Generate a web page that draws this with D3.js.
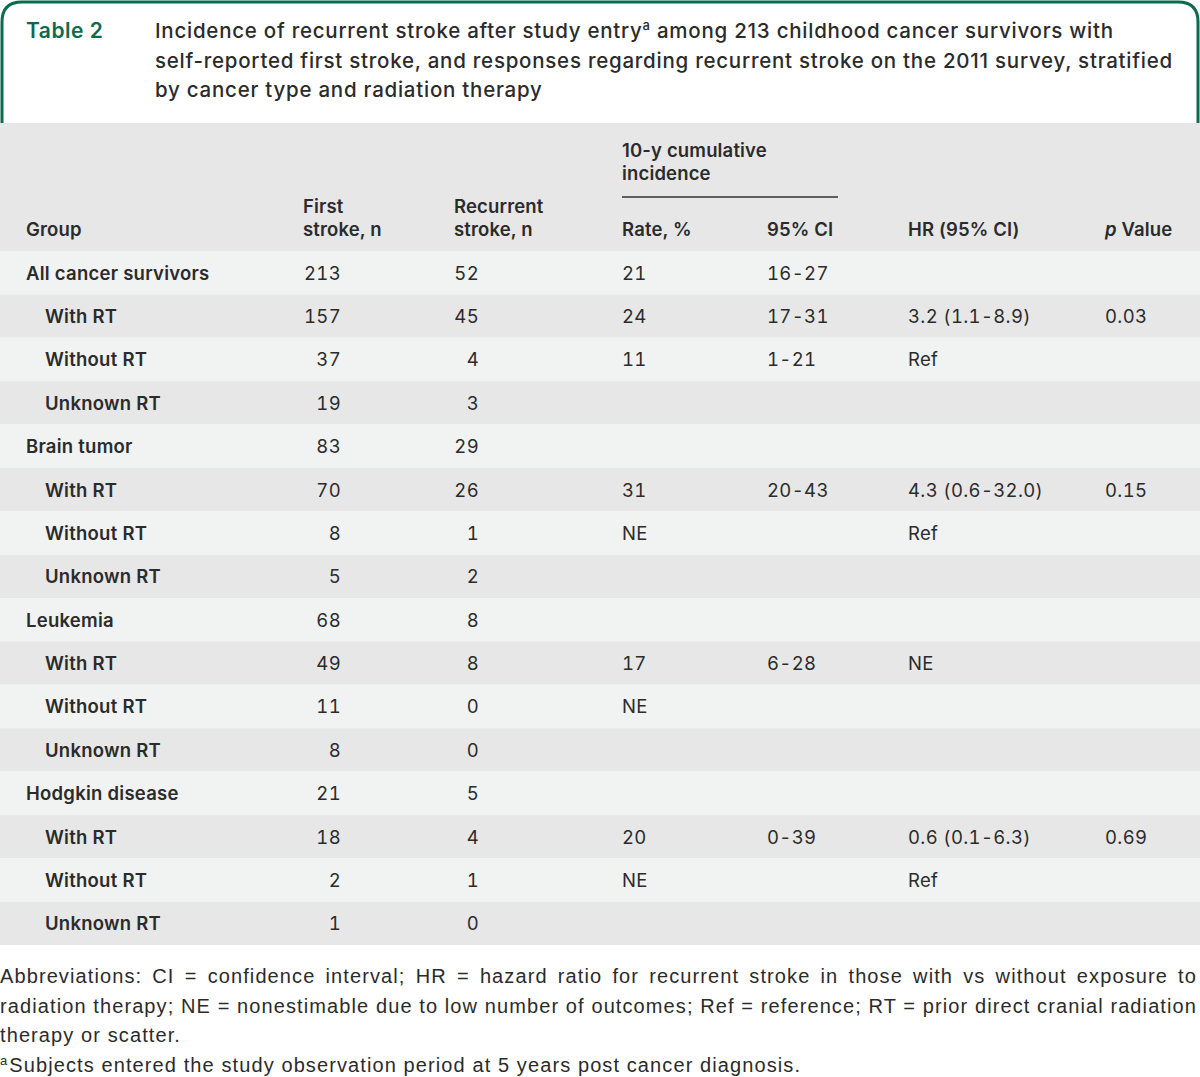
<!DOCTYPE html>
<html>
<head>
<meta charset="utf-8">
<script src="https://cdn.jsdelivr.net/npm/d3@7"></script>
<style>
  html, body { margin: 0; padding: 0; background: #fff; }
  svg { display: block; }
  .num { font-variant-numeric: tabular-nums; font-feature-settings: "tnum" 1; }
</style>
</head>
<body>
<svg id="chart" width="1200" height="1077"></svg>
<script>
// ---------- DATA ----------
const tableLabel = "Table 2";
const titleLines = [
  ["Incidence of recurrent stroke after study entry", "a", " among 213 childhood cancer survivors with"],
  ["self-reported first stroke, and responses regarding recurrent stroke on the 2011 survey, stratified"],
  ["by cancer type and radiation therapy"]
];
const groups = ["All cancer survivors", "With RT", "Without RT", "Unknown RT",
  "Brain tumor", "With RT", "Without RT", "Unknown RT",
  "Leukemia", "With RT", "Without RT", "Unknown RT",
  "Hodgkin disease", "With RT", "Without RT", "Unknown RT"];
const isSubgroup = [false, true, true, true, false, true, true, true, false, true, true, true, false, true, true, true];
const firstStroke = [213, 157, 37, 19, 83, 70, 8, 5, 68, 49, 11, 8, 21, 18, 2, 1];
const recurrentStroke = [52, 45, 4, 3, 29, 26, 1, 2, 8, 8, 0, 0, 5, 4, 1, 0];
const ratePct = ["21", "24", "11", "", "", "31", "NE", "", "", "17", "NE", "", "", "20", "NE", ""];
const ci95 = ["16-27", "17-31", "1-21", "", "", "20-43", "", "", "", "6-28", "", "", "", "0-39", "", ""];
const hr = ["", "3.2 (1.1-8.9)", "Ref", "", "", "4.3 (0.6-32.0)", "Ref", "", "", "NE", "", "", "", "0.6 (0.1-6.3)", "Ref", ""];
const pValue = ["", "0.03", "", "", "", "0.15", "", "", "", "", "", "", "", "0.69", "", ""];
const footLines = [
  "Abbreviations: CI = confidence interval; HR = hazard ratio for recurrent stroke in those with vs without exposure to",
  "radiation therapy; NE = nonestimable due to low number of outcomes; Ref = reference; RT = prior direct cranial radiation",
  "therapy or scatter."
];
const footNoteA = "Subjects entered the study observation period at 5 years post cancer diagnosis.";

// ---------- STYLE ----------
const green = "#0b6b4d";
const textCol = "#2b2b2b";
const bgDark = "#e7e7e7";
const bgLight = "#f1f2f2";
const fontMain = "Inter, 'Noto Sans', sans-serif";
const fontFoot = "'Liberation Sans', Arial, sans-serif";

const svg = d3.select("#chart");
const W = 1200;

// ---------- HEADER / BORDER ----------
svg.append("path")
  .attr("d", "M2,123 L2,22 Q2,2 22,2 L1178,2 Q1198,2 1198,22 L1198,123")
  .attr("fill", "none").attr("stroke", green).attr("stroke-width", 3);

svg.append("text").attr("x", 26).attr("y", 38)
  .attr("font-family", fontMain).attr("font-size", 21).attr("font-weight", 600)
  .attr("letter-spacing", 0.5)
  .attr("fill", green).text(tableLabel);

const titleY = d3.scaleLinear().domain([0, 1]).range([38, 67.5]);
titleLines.forEach((parts, i) => {
  const t = svg.append("text").attr("x", 155).attr("y", titleY(i))
    .attr("font-family", fontMain).attr("font-size", 20.5).attr("font-weight", 500)
    .attr("letter-spacing", 0.75)
    .attr("fill", textCol);
  parts.forEach((p, j) => {
    if (parts.length === 3 && j === 1) {
      t.append("tspan").attr("font-size", 13).attr("dy", -8).text(p);
    } else if (parts.length === 3 && j === 2) {
      t.append("tspan").attr("dy", 8).text(p);
    } else {
      t.append("tspan").text(p);
    }
  });
});

// ---------- TABLE ----------
const tableTop = 123, headBottom = 251, tableBottom = 945;
const y = d3.scaleBand().domain(d3.range(groups.length)).range([headBottom, tableBottom]).padding(0);

svg.append("rect").attr("x", 0).attr("y", tableTop).attr("width", W)
  .attr("height", headBottom - tableTop).attr("fill", bgDark);

svg.selectAll("rect.row").data(groups).join("rect").attr("class", "row")
  .attr("x", 0).attr("y", (d, i) => y(i)).attr("width", W).attr("height", y.bandwidth())
  .attr("fill", (d, i) => i % 2 === 0 ? bgLight : bgDark);

// Header texts
const hdr = svg.append("g").attr("font-family", fontMain).attr("font-size", 18.5)
  .attr("font-weight", 600).attr("fill", textCol).attr("letter-spacing", 0.15);
const h1 = 236, h0 = 213;
const headerCells = [
  {x: 26, y: h1, t: "Group"},
  {x: 303, y: h0, t: "First"}, {x: 303, y: h1, t: "stroke, n"},
  {x: 454, y: h0, t: "Recurrent"}, {x: 454, y: h1, t: "stroke, n"},
  {x: 622, y: 157, t: "10-y cumulative"}, {x: 622, y: 180, t: "incidence"},
  {x: 622, y: h1, t: "Rate, %"}, {x: 767, y: h1, t: "95% CI"},
  {x: 908, y: h1, t: "HR (95% CI)"}
];
hdr.selectAll("text").data(headerCells).join("text")
  .attr("x", d => d.x).attr("y", d => d.y).text(d => d.t);
const pv = hdr.append("text").attr("x", 1105).attr("y", h1);
pv.append("tspan").attr("font-style", "italic").text("p");
pv.append("tspan").text(" Value");
svg.append("line").attr("x1", 622).attr("x2", 838).attr("y1", 197).attr("y2", 197)
  .attr("stroke", "#333").attr("stroke-width", 1.3);

// Body texts
const body = svg.append("g").attr("font-family", fontMain).attr("font-size", 18.5).attr("fill", textCol);
const base = i => y(i) + y.bandwidth() / 2 + 7;

body.selectAll("text.grp").data(groups).join("text").attr("class", "grp")
  .attr("x", (d, i) => isSubgroup[i] ? 45 : 26).attr("y", (d, i) => base(i))
  .attr("font-weight", 600).attr("letter-spacing", 0.25).text(d => d);

const numCols = [
  {cls: "fs", data: firstStroke, x: 341, anchor: "end"},
  {cls: "rs", data: recurrentStroke, x: 479, anchor: "end"},
  {cls: "rate", data: ratePct, x: 622, anchor: "start"},
  {cls: "ci", data: ci95, x: 767, anchor: "start"},
  {cls: "hr", data: hr, x: 908, anchor: "start"},
  {cls: "pv", data: pValue, x: 1105, anchor: "start"}
];
numCols.forEach(c => {
  body.selectAll("text." + c.cls).data(c.data).join("text").attr("class", c.cls + " num")
    .attr("x", c.x).attr("y", (d, i) => base(i)).attr("text-anchor", c.anchor)
    .attr("letter-spacing", 0.35).text(d => d);
});

// ---------- FOOTNOTES ----------
const fy = d3.scaleLinear().domain([0, 1]).range([983, 1012.5]);
const foot = svg.append("g").attr("font-family", fontFoot).attr("font-size", 20)
  .attr("letter-spacing", 1.1).attr("fill", textCol);
footLines.forEach((line, i) => {
  const t = foot.append("text").attr("x", 0).attr("y", fy(i)).text(line);
  if (i < 2) {
    const len = t.node().getComputedTextLength();
    const gaps = line.split(" ").length - 1;
    const target = 1197;
    t.attr("word-spacing", (target - len) / gaps);
  }
});
const fa = foot.append("text").attr("x", 0).attr("y", fy(3));
fa.append("tspan").attr("font-size", 13).attr("dy", -7).text("a");
fa.append("tspan").attr("dy", 7).attr("dx", 1).text(footNoteA);
</script>
</body>
</html>
